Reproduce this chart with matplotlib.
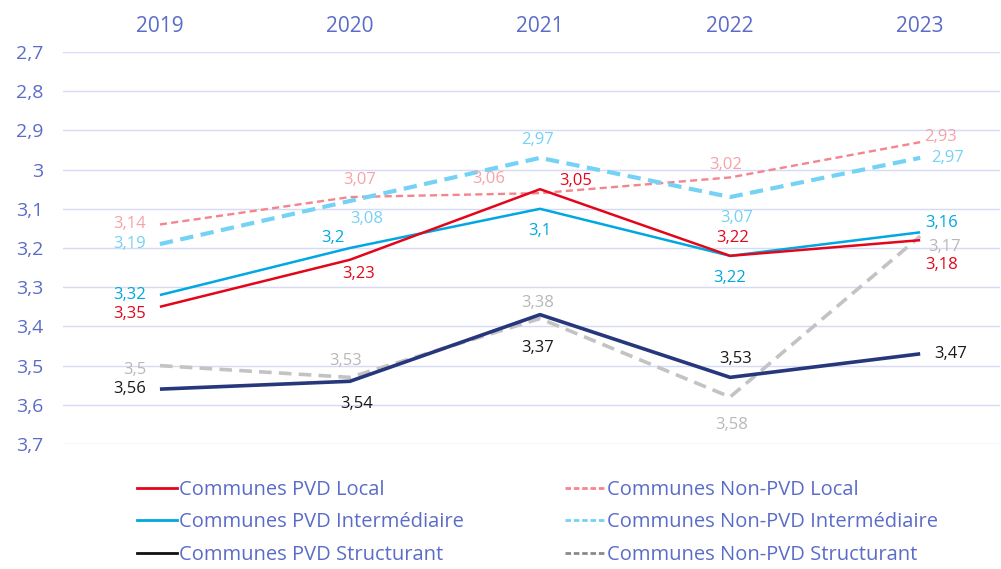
import matplotlib
matplotlib.use("Agg")
import matplotlib.pyplot as plt
from matplotlib.lines import Line2D

plt.rcParams["font.family"] = ["Open Sans", "DejaVu Sans"]

years = ["2019", "2020", "2021", "2022", "2023"]
pvd_local = [3.35, 3.23, 3.05, 3.22, 3.18]
non_pvd_local = [3.14, 3.07, 3.06, 3.02, 2.93]
pvd_inter = [3.32, 3.20, 3.10, 3.22, 3.16]
non_pvd_inter = [3.19, 3.08, 2.97, 3.07, 2.97]
pvd_struct = [3.56, 3.54, 3.37, 3.53, 3.47]
non_pvd_struct = [3.50, 3.53, 3.38, 3.58, 3.17]
y_ticks = [2.7, 2.8, 2.9, 3.0, 3.1, 3.2, 3.3, 3.4, 3.5, 3.6, 3.7]

AXIS_COL = "#5b6cc8"

# (values, line colour, label colour, linestyle, width, label offsets in points)
series = [
    (non_pvd_struct, "#c3c3c3", "#b8b8b8", (0, (3.5, 2)), 2.6,
     [(-10, -3, "right"), (-3, 12, "center"), (-2, 11, "center"), (1, -20, "center"), (6, -8, "left")]),
    (pvd_struct, "#26377c", "#1a1a1a", "-", 2.6,
     [(-10, 0, "right"), (5, -16, "center"), (-2, -24, "center"), (4, 13, "center"), (10, 0, "left")]),
    (non_pvd_local, "#f4848d", "#f6a2a8", (0, (3, 1.8)), 1.7,
     [(-10, 0, "right"), (7, 12, "center"), (-25, 10, "right"), (-3, 9, "center"), (3, 4, "left")]),
    (non_pvd_inter, "#74d2f5", "#74d2f5", (0, (3.2, 1.8)), 3.0,
     [(-10, 0, "right"), (12, -13, "center"), (-2, 13, "center"), (5, -15, "center"), (8, 0, "left")]),
    (pvd_inter, "#00a7e1", "#00a7e1", "-", 1.8,
     [(-10, 0, "right"), (-12, 7, "center"), (0, -16, "center"), (0, -16, "center"), (4, 7, "left")]),
    (pvd_local, "#e3061a", "#e3061a", "-", 1.8,
     [(-10, -5, "right"), (6, -10, "center"), (26, 6, "center"), (2, 13, "center"), (4, -18, "left")]),
]

fig = plt.figure(figsize=(10.01, 5.69), dpi=100)
ax = fig.add_axes([63 / 1001, 1 - 444 / 569, 937 / 1001, 392 / 569])

x = list(range(len(years)))
for vals, col, lcol, ls, lw, offs in series:
    ax.plot(x, vals, color=col, linestyle=ls, linewidth=lw, solid_capstyle="butt",
            dash_capstyle="butt", zorder=3)
    for xi, v, (dx, dy, ha) in zip(x, vals, offs):
        txt = f"{v:g}".replace(".", ",")
        ax.annotate(txt, (xi, v), xytext=(dx, dy), textcoords="offset points",
                    ha=ha, va="center", fontsize=12, color=lcol, zorder=4)

ax.set_xlim(-0.51, 4.42)
ax.set_ylim(3.7, 2.7)
ax.set_yticks(y_ticks)
ax.set_yticklabels([f"{t:g}".replace(".", ",") for t in y_ticks])
ax.set_xticks(x)
ax.set_xticklabels(years)
ax.xaxis.tick_top()
ax.tick_params(axis="both", length=0, labelsize=14, labelcolor=AXIS_COL)
ax.tick_params(axis="x", labelsize=15, pad=11)
ax.tick_params(axis="y", pad=14)
ax.grid(axis="y", color="#d6daf3", linewidth=1)
ax.set_axisbelow(True)
for sp in ax.spines.values():
    sp.set_visible(False)

left_handles = [
    Line2D([], [], color="#e3061a", lw=2),
    Line2D([], [], color="#00a7e1", lw=2),
    Line2D([], [], color="#111111", lw=2),
]
right_handles = [
    Line2D([], [], color="#f4848d", lw=2, ls=(0, (2, 1))),
    Line2D([], [], color="#74d2f5", lw=2, ls=(0, (2, 1))),
    Line2D([], [], color="#8a8a8a", lw=2, ls=(0, (2, 1))),
]
left_labels = ["Communes PVD Local", "Communes PVD Intermédiaire", "Communes PVD Structurant"]
right_labels = ["Communes Non-PVD Local", "Communes Non-PVD Intermédiaire",
                "Communes Non-PVD Structurant"]

for hs, ls_, xpos in [(left_handles, left_labels, 137), (right_handles, right_labels, 565)]:
    leg = fig.legend(hs, ls_, loc="upper left", bbox_to_anchor=(xpos / 1001, 1 - 480 / 569),
                     frameon=False, fontsize=14.5, handlelength=2.0, handletextpad=0.1,
                     labelspacing=0.62, borderaxespad=0, borderpad=0)
    for t in leg.get_texts():
        t.set_color(AXIS_COL)

fig.savefig("out.png", dpi=100)
